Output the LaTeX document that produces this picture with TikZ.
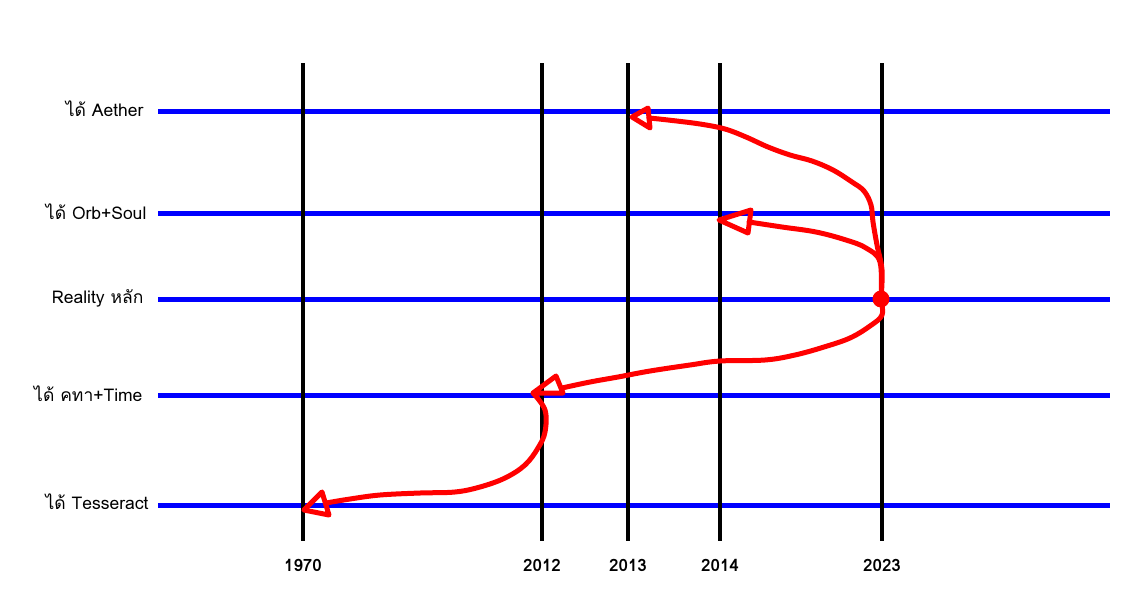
\documentclass[tikz,border=0pt]{standalone}
\usepackage{fontspec}
\newfontfamily\thaifont[Script=Thai]{Loma}
\tikzset{
	gem/.style={draw=blue, line width=5pt},
	year/.style={draw=black, line width=4.5pt},
	pen/.style={draw=red, line width=5pt, line cap=round, line join=round},
	gemlabel/.style={anchor=east, font=\thaifont\fontsize{17.5}{20}\selectfont},
	yearlabel/.style={font=\thaifont\bfseries\fontsize{17}{19}\selectfont}
}

\begin{document}
\begin{tikzpicture}[x=1pt, y=-1pt]
		%%%%% START %%%%%
		\useasboundingbox (0, 0) rectangle (1134, 600);
		
		% stones
		\draw[gem] (158, 111) -- (1110, 111);
		\draw[gem] (158, 213) -- (1110, 213);
		\draw[gem] (158, 299) -- (1110, 299);
		\draw[gem] (158, 395) -- (1110, 395);
		\draw[gem] (158, 505) -- (1110, 505);
		
		\node[gemlabel] (aether) at (147, 109) {ได้ Aether};
		\node[gemlabel] (orbsoul) at (150, 212) {ได้ Orb+Soul};
		\node[gemlabel] (reality) at (147, 298) {Reality หลัก};
		\node[gemlabel] (stafftime) at (146, 394) {ได้ คทา+Time};
		\node[gemlabel] (tesseract) at (152, 502) {ได้ Tesseract};
		
		% years
		\foreach \x/\y in {303/1970, 542/2012, 628/2013, 720/2014, 882/2023} {
			\draw[year] (\x, 63) -- (\x, 541);
			\node[yearlabel] (y\y) at (\x, 565) {\y};
		}
		
		% trips
		\coordinate (now) at (881, 299);
		\coordinate (tipaether) at (632, 117);
		\coordinate (tiporb) at (719, 220);
		\coordinate (tiptime) at (533, 393);
		\coordinate (tiptess) at (304, 510);
		
		\fill[red] (now) circle (8.5);
		\draw[pen] plot[smooth, tension=0.6] coordinates {(now) (882, 270) (877, 245) (873, 222) (871, 205) (864, 191) (852, 182) (833, 170) (812, 161) (790, 155) (768, 147) (746, 137) (725, 129) (700, 124) (668, 120) (649, 118)};
		\draw[pen] (tipaether) -- (648, 108) -- (650, 128) -- cycle;
		
		\draw[pen] plot[smooth, tension=0.6] coordinates {(now) (880, 262) (866, 248) (846, 240) (816, 232) (782, 227) (749, 222)};
		\draw[pen] (tiporb) -- (751, 210) -- (748, 233) -- cycle;
		
		\draw[pen] plot[smooth, tension=0.6] coordinates {(now) (882, 315) (870, 326) (850, 338) (824, 347) (795, 355) (765, 360) (720, 361) (690, 365) (650, 371) (618, 377) (590, 382) (562, 388)};
		\draw[pen] (tiptime) -- (556, 376) -- (563, 393) -- cycle;
		
		\draw[pen] plot[smooth, tension=0.6] coordinates {(tiptime) (545, 410) (545, 432) (538, 448) (525, 465) (505, 478) (480, 487) (455, 492) (420, 493) (380, 495) (350, 499) (326, 503)};
		\draw[pen] (tiptess) -- (322, 492) -- (329, 515) -- cycle;
		
		%%%%% END %%%%%
	\end{tikzpicture}
\end{document}
